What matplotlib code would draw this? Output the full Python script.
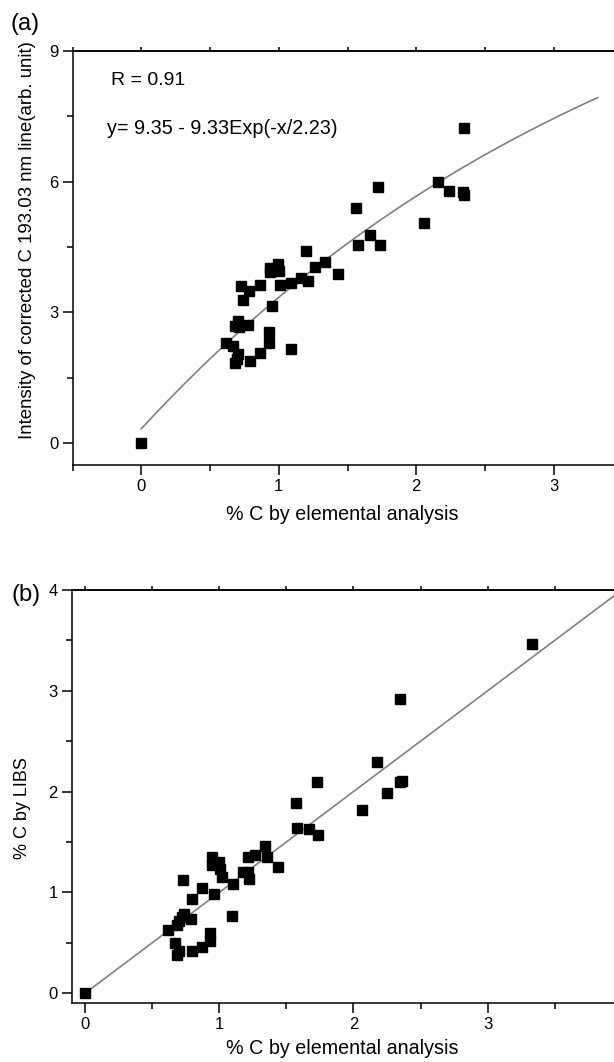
import numpy as np
import matplotlib
matplotlib.use("Agg")
import matplotlib.pyplot as plt
from matplotlib.ticker import MultipleLocator, FixedLocator

plt.rcParams['font.family'] = ['Liberation Sans', 'DejaVu Sans']

# panel (a): % C by elemental analysis vs corrected C 193.03 nm intensity
a_x = [0.0, 1.564, 2.053, 1.66, 1.573, 1.735, 1.2, 1.335, 1.263, 1.429,
       0.993, 0.933, 1.0, 0.933, 1.012, 1.092, 1.161, 1.214, 0.723, 0.867,
       0.783, 0.74, 0.954, 0.704, 0.684, 0.773, 0.713, 0.928, 0.614, 0.67,
       0.928, 0.704, 0.696, 0.684, 0.863, 0.79, 1.087,
       2.35, 1.72, 2.16, 2.24, 2.34, 2.35]
a_y = [0.0, 5.39, 5.06, 4.77, 4.55, 4.54, 4.40, 4.15, 4.05, 3.87,
       4.10, 4.02, 3.96, 3.93, 3.64, 3.67, 3.79, 3.71, 3.60, 3.62,
       3.50, 3.28, 3.15, 2.80, 2.69, 2.72, 2.66, 2.56, 2.30, 2.22,
       2.30, 2.04, 1.94, 1.84, 2.08, 1.89, 2.16,
       7.22, 5.87, 5.99, 5.79, 5.75, 5.69]

# exponential fit curve as drawn (y = A - B*exp(-x/t))
fit_A, fit_B, fit_t = 13.37, 13.04, 3.8
fit_xmax = 3.32

# panel (b): % C by elemental analysis vs % C by LIBS
b_x = [0.0, 2.173, 1.731, 2.347, 2.36, 2.252, 1.572, 2.061, 1.579, 1.669,
       1.738, 1.341, 1.269, 1.212, 1.353, 1.44, 1.175, 1.212, 1.224, 0.944,
       0.944, 1.0, 1.006, 1.023, 1.1, 0.961, 0.733, 0.874, 0.795, 0.738,
       0.72, 0.79, 0.703, 0.683, 0.621, 1.093, 0.67, 0.698, 0.688, 0.795,
       0.874, 0.934, 0.934, 3.33, 2.35]
b_y = [0.0, 2.29, 2.09, 2.09, 2.10, 1.99, 1.89, 1.82, 1.64, 1.63,
       1.57, 1.46, 1.375, 1.35, 1.35, 1.25, 1.20, 1.20, 1.13, 1.35,
       1.27, 1.30, 1.23, 1.15, 1.08, 0.98, 1.12, 1.04, 0.93, 0.79,
       0.76, 0.74, 0.72, 0.68, 0.63, 0.77, 0.50, 0.42, 0.38, 0.42,
       0.46, 0.60, 0.52, 3.46, 2.92]

# linear fit for (b)
lin_a, lin_b = 0.0, 1.0

x_ticks = [0, 1, 2, 3]

fig = plt.figure(figsize=(6.14, 10.62), dpi=100)
ax1 = fig.add_axes([0.1181, 0.5621, 0.8958, 0.3901])
ax2 = fig.add_axes([0.1168, 0.0553, 0.8960, 0.3892])


def style_axes(ax, ymaj):
    for s in ['left', 'bottom', 'top', 'right']:
        ax.spines[s].set_linewidth(1.1)
    ax.xaxis.set_major_locator(FixedLocator(x_ticks))
    ax.xaxis.set_minor_locator(MultipleLocator(0.5))
    ax.yaxis.set_major_locator(MultipleLocator(ymaj))
    ax.yaxis.set_minor_locator(MultipleLocator(ymaj / 2))
    ax.tick_params(which='major', direction='out', length=7, width=1.1,
                   labelsize=12, pad=3)
    ax.tick_params(which='minor', direction='out', length=4, width=1.1)
    top = ax.secondary_xaxis('top')
    top.xaxis.set_major_locator(MultipleLocator(0.5))
    top.tick_params(direction='out', length=3, width=1.1, labeltop=False)
    top.spines['top'].set_linewidth(1.1)


# ---- (a)
ax1.plot(a_x, a_y, 's', color='black', markersize=7.5, zorder=3)
xf = np.linspace(0, fit_xmax, 200)
ax1.plot(xf, fit_A - fit_B * np.exp(-xf / fit_t), color='#808080', lw=1.2)
ax1.set_xlim(-0.5, 3.5)
ax1.set_ylim(-0.5, 9)
style_axes(ax1, 3)
ax1.set_xlabel('% C by elemental analysis', fontsize=14.2)
ax1.xaxis.set_label_coords(0.491, -0.097)
ax1.set_ylabel('Intensity of corrected C 193.03 nm line(arb. unit)', fontsize=13.4)
ax1.yaxis.set_label_coords(-0.066, 0.542)
ax1.text(-0.22, 8.32, 'R = 0.91', fontsize=14, ha='left', va='center')
ax1.text(-0.25, 7.22, 'y= 9.35 - 9.33Exp(-x/2.23)', fontsize=14.3, ha='left', va='center')
fig.text(25 / 614, 1 - 24 / 1062, '(a)', fontsize=17, ha='center', va='center')

# ---- (b)
ax2.plot(b_x, b_y, 's', color='black', markersize=7.5, zorder=3)
xl = np.array([0, 4.0])
ax2.plot(xl, lin_a + lin_b * xl, color='#808080', lw=1.2)
ax2.set_xlim(-0.1, 4.0)
ax2.set_ylim(-0.1, 4)
style_axes(ax2, 1)
ax2.set_xlabel('% C by elemental analysis', fontsize=14.2)
ax2.xaxis.set_label_coords(0.491, -0.087)
ax2.set_ylabel('% C by LIBS', fontsize=13)
ax2.yaxis.set_label_coords(-0.074, 0.473)
fig.text(26 / 614, 1 - 595 / 1062, '(b)', fontsize=17, ha='center', va='center')

fig.savefig('out.png', dpi=100)
